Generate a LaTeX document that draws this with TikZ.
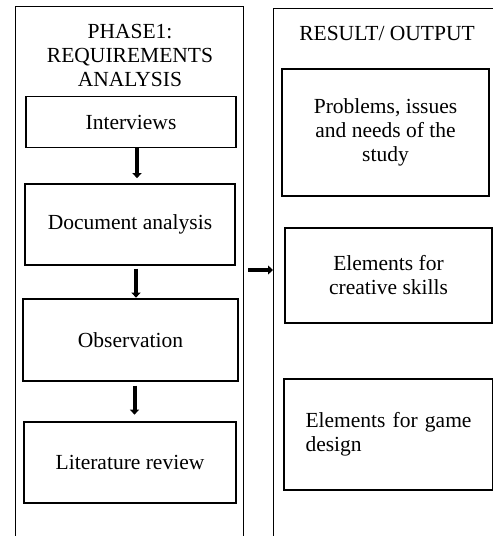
\documentclass[tikz,border=0pt]{standalone}
\usepackage{fontspec}
\setmainfont{Liberation Serif}
\usetikzlibrary{arrows.meta,calc}
\begin{document}
\begin{tikzpicture}[x=1pt,y=-1pt,
  every node/.style={font=\fontsize{21.5}{24}\selectfont},
  panel/.style={draw,line width=1.3pt,inner sep=0pt},
  stepbox/.style={draw,line width=1.3pt,align=center,inner sep=0pt},
  flow/.style={line width=4pt,-{Triangle[length=5pt,width=9pt]}}]
\useasboundingbox (0,0) rectangle (493,536);
\clip (0,0) rectangle (493,536);

% two column frames, open below the page edge
\node[panel,minimum width=228pt,minimum height=560pt,anchor=north west] (phase) at (15,6) {};
\node[panel,minimum width=240pt,minimum height=560pt,anchor=north west] (result) at (273,8) {};

% column headings
\node[align=center] (phasetitle) at (130,55) {PHASE1:\\REQUIREMENTS\\ANALYSIS};
\node (resulttitle) at (387,33) {RESULT/ OUTPUT};

% requirement analysis steps
\node[stepbox,minimum width=210pt,minimum height=51pt] (int) at (131,122) {Interviews};
\node[stepbox,minimum width=210pt,minimum height=81pt] (doc) at (130,224.5) {Document analysis};
\node[stepbox,minimum width=215pt,minimum height=82pt] (obs) at (130.5,340) {Observation};
\node[stepbox,minimum width=212pt,minimum height=81pt] (lit) at (130,462.5) {Literature review};

% outputs
\node[stepbox,minimum width=207pt,minimum height=127pt] (prob) at (385.5,132.5) {Problems, issues\\and needs of the\\study};
\node[stepbox,minimum width=207pt,minimum height=95pt] (crea) at (388.5,275.5) {Elements for\\creative skills};
\node[draw,line width=1.3pt,text width=166pt,align=justify,inner xsep=21.5pt,inner ysep=0pt,
      minimum height=111pt] (game) at (388.5,434.5) {Elements for game design};

% flow between the steps
\draw[flow] ($(int.south)+(6,0)$) coordinate (a1) -- ($(a1)+(0,30)$);
\draw[flow] ($(doc.south)+(6,3)$) coordinate (a2) -- ($(a2)+(0,29)$);
\draw[flow] ($(obs.south)+(4,4)$) coordinate (a3) -- ($(a3)+(0,29)$);
\draw[flow] ($(phase.north east)+(4,264)$) coordinate (a4) -- (a4 -| result.west);
\end{tikzpicture}
\end{document}
